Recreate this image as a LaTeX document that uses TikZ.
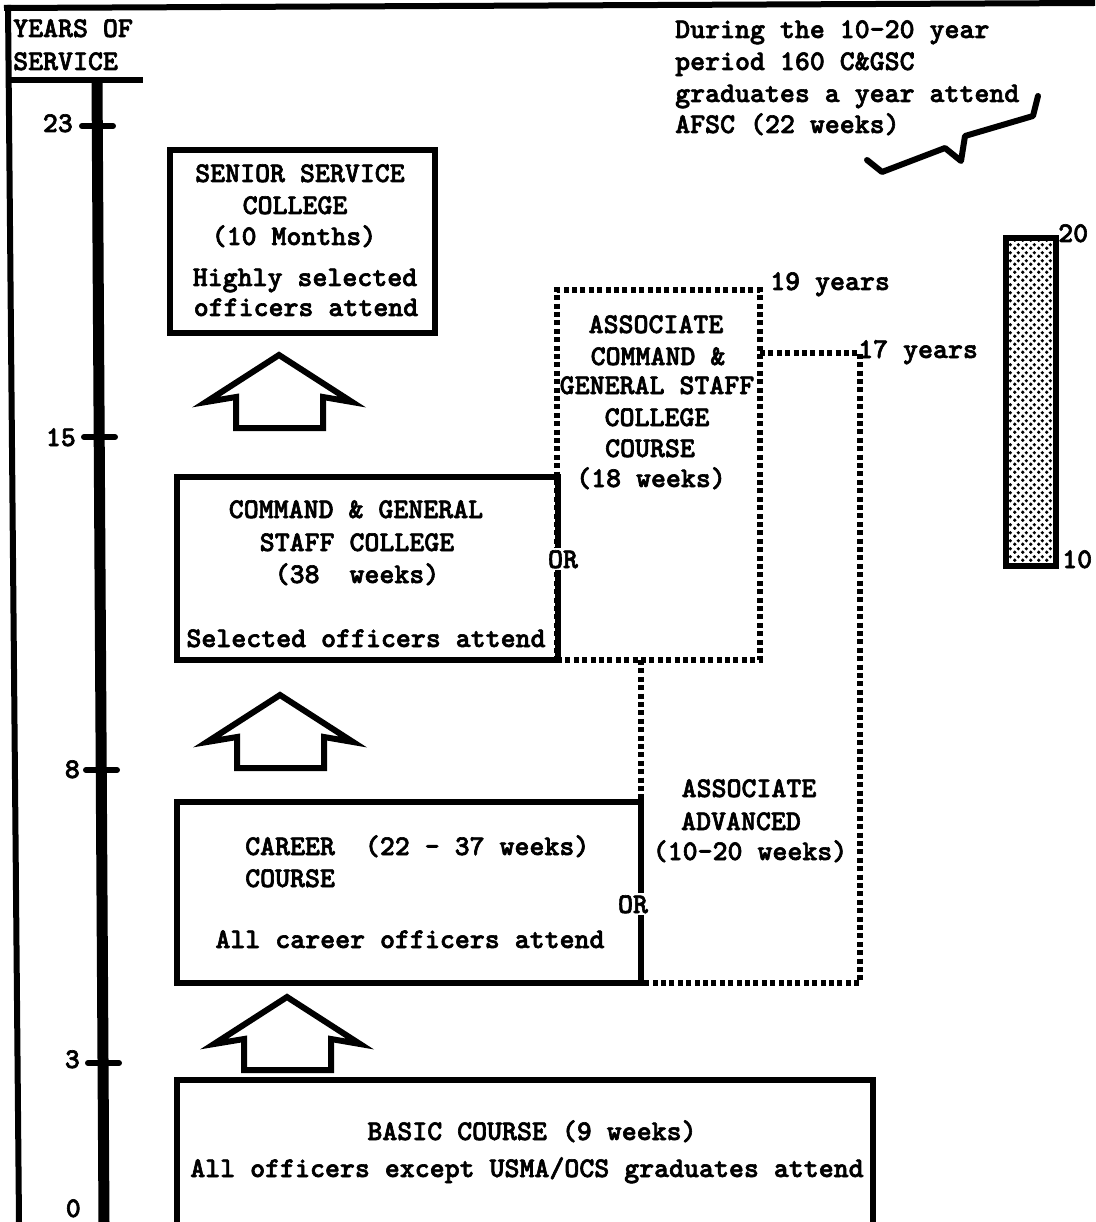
\documentclass[tikz,border=0pt]{standalone}
\usepackage{fontspec}
\newfontfamily\tw{lmmonolt10-bold}[Extension=.otf, FakeBold=2.2]
\usetikzlibrary{patterns}
\pgfdeclarepatternformonly{stipple}{\pgfqpoint{0pt}{0pt}}{\pgfqpoint{7.5pt}{7.5pt}}{\pgfqpoint{7.5pt}{7.5pt}}{%
  \pgfpathcircle{\pgfqpoint{1.875pt}{1.875pt}}{1.9pt}%
  \pgfpathcircle{\pgfqpoint{5.625pt}{5.625pt}}{1.9pt}%
  \pgfusepath{fill}}
\tikzset{
  txt/.style={font=\tw\fontsize{28.5}{32}\selectfont, inner sep=0pt},
  box/.style={draw, line width=6pt, inner sep=0pt, outer sep=0pt, rectangle},
  dotbox/.style={draw, line width=5.5pt, dash pattern=on 5pt off 3.4pt, inner sep=0pt, outer sep=0pt, rectangle},
  dotline/.style={line width=5.5pt, dash pattern=on 5pt off 3.4pt},
  heavy/.style={line width=6pt},
  tick/.style={line width=6pt, line cap=round},
  ornode/.style={txt, fill=white, inner sep=2pt},
  housearrow/.pic={\draw[line width=6pt, line join=miter] (0,0) -- (-73,47) -- (-43,42) -- (-43,73) -- (44,73) -- (44,42) -- (73,47) -- cycle;}
}
\begin{document}
\begin{tikzpicture}[x=1pt,y=-1pt]
\useasboundingbox (0,0) rectangle (1095,1222);
\clip (0,0) rectangle (1095,1222);

% frame and header
\draw[heavy] (4,8) -- (1095,3);
\draw[heavy] (8,5) -- (19,1222);
\draw[heavy] (8,80) -- (143,80);
\node[txt, anchor=base west] (yrs) at (13,37) {YEARS OF};
\node[txt, anchor=base west] (svc) at (13,70) {SERVICE};

% axis
\draw[line width=11pt] (97,80) -- (104,1222);
\draw[tick] (82,126) -- (113,126);
\draw[tick] (84,437) -- (115,437);
\draw[tick] (86,770) -- (117,770);
\draw[tick] (88,1063) -- (119,1063);
\node[txt, anchor=base east] (t23) at (73,132) {23};
\node[txt, anchor=base east] (t15) at (76,446) {15};
\node[txt, anchor=base east] (t8) at (80,778) {8};
\node[txt, anchor=base east] (t3) at (80,1068) {3};
\node[txt, anchor=base east] (t0) at (81,1217) {0};

% dotted associate boxes
\node[dotbox, minimum width=203pt, minimum height=370pt] (acgsc) at (658.5,475) {};
\coordinate (c17) at (860,353);

% solid boxes
\node[box, minimum width=265pt, minimum height=183pt] (ssc) at (302.5,241.5) {};
\node[box, minimum width=381pt, minimum height=183pt] (cgsc) at (367.5,568.5) {};
\node[box, minimum width=464pt, minimum height=181pt] (career) at (409,892.5) {};
\node[box, minimum width=696pt, minimum height=160pt] (basic) at (525,1160) {};

\draw[dotline] (career.north east |- acgsc.south) -- (career.north east);
\draw[dotline] (acgsc.east |- c17) -- (c17) -- (c17 |- career.south) -- (career.south east);

\node[ornode, anchor=base] (or1) at (563,568) {OR};
\node[ornode, anchor=base] (or2) at (633,913) {OR};

% house arrows
\pic at (279,355) {housearrow};
\pic at (280,695) {housearrow};
\pic at (287,997) {housearrow};

% senior service college
\node[txt, anchor=base] (s1) at (300,182) {SENIOR SERVICE};
\node[txt, anchor=base] (s2) at (295,214) {COLLEGE};
\node[txt, anchor=base] (s3) at (294,245) {(10 Months)};
\node[txt, anchor=base] (s4) at (305,286) {Highly selected};
\node[txt, anchor=base] (s5) at (306,316) {officers attend};

% command and general staff college
\node[txt, anchor=base] (g1) at (356,518) {COMMAND \& GENERAL};
\node[txt, anchor=base] (g2) at (357,551) {STAFF COLLEGE};
\node[txt, anchor=base] (g3) at (357,583) {(38\ \ weeks)};
\node[txt, anchor=base] (g4) at (366,647) {Selected officers attend};

% career course
\node[txt, anchor=base west] (c1) at (245,855) {CAREER\ \ (22 - 37 weeks)};
\node[txt, anchor=base west] (c2) at (245,887) {COURSE};
\node[txt, anchor=base] (c3) at (410,948) {All career officers attend};

% basic course
\node[txt, anchor=base] (b1) at (532,1140) {BASIC COURSE (9 weeks)};
\node[txt, anchor=base] (b2) at (527,1177) {All officers except USMA/OCS graduates attend};

% associate CGSC
\node[txt, anchor=base] (a1) at (656,333) {ASSOCIATE};
\node[txt, anchor=base] (a2) at (658,365) {COMMAND \&};
\node[txt, anchor=base] (a3) at (657,394) {GENERAL STAFF};
\node[txt, anchor=base] (a4) at (657,426) {COLLEGE};
\node[txt, anchor=base] (a5) at (650,457) {COURSE};
\node[txt, anchor=base] (a6) at (651,487) {(18 weeks)};
\node[txt, anchor=base west] (y19) at (770,290) {19 years};
\node[txt, anchor=base west] (y17) at (858,358) {17 years};

% associate advanced
\node[txt, anchor=base] (d1) at (749,797) {ASSOCIATE};
\node[txt, anchor=base] (d2) at (741,830) {ADVANCED};
\node[txt, anchor=base] (d3) at (750,860) {(10-20 weeks)};

% AFSC note
\node[txt, anchor=base west] (n1) at (675,38) {During the 10-20 year};
\node[txt, anchor=base west] (n2) at (675,70) {period 160 C\&GSC};
\node[txt, anchor=base west] (n3) at (675,102) {graduates a year attend};
\node[txt, anchor=base west] (n4) at (675,133) {AFSC (22 weeks)};
\draw[line width=6pt, line join=round, line cap=round] (867,160) -- (882,172) -- (945,148) -- (961,161) -- (965,136) -- (1033,116) -- (1038,96);

% AFSC bar
\node[draw, line width=6pt, pattern=stipple, minimum width=50pt, minimum height=328pt, inner sep=0pt, outer sep=0pt] (bar) at (1031,402) {};
\node[txt, anchor=base west] (b20) at (1058,242) {20};
\node[txt, anchor=base west] (b10) at (1062,568) {10};
\end{tikzpicture}
\end{document}
